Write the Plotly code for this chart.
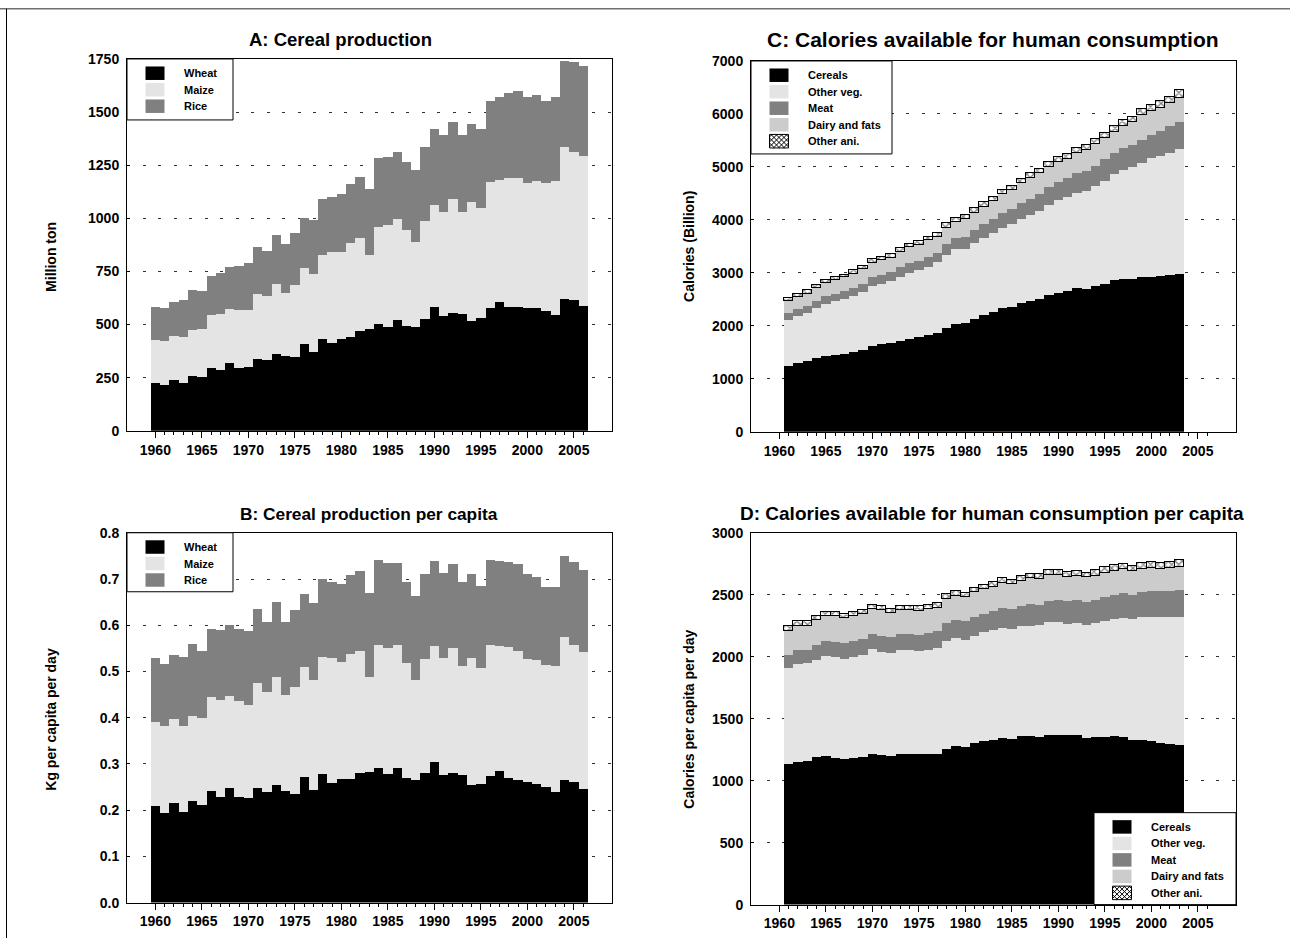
import plotly.graph_objects as go

# ---------------- data ----------------
years_ab = list(range(1960, 2007))
years_cd = list(range(1961, 2004))

# A: Cereal production (million ton)
a_wheat = [226, 215, 239, 225, 259, 253, 294, 286, 317, 298, 302, 338, 333, 360, 353, 346,
           408, 371, 432, 412, 430, 441, 470, 478, 504, 490, 520, 493, 490, 528, 583, 540,
           556, 551, 517, 531, 577, 606, 584, 581, 578, 577, 564, 545, 622, 616, 589]
a_maize = [201, 208, 209, 218, 215, 228, 251, 264, 256, 272, 268, 308, 302, 331, 297, 339,
           359, 366, 396, 428, 414, 442, 438, 350, 457, 479, 476, 451, 401, 460, 482, 492,
           537, 480, 559, 517, 592, 575, 608, 610, 589, 598, 603, 629, 715, 696, 704]
a_rice = [156, 154, 160, 173, 187, 177, 184, 192, 197, 205, 219, 221, 212, 231, 231, 248,
          237, 256, 262, 260, 270, 280, 289, 311, 323, 322, 317, 321, 338, 350, 355, 358,
          359, 359, 369, 374, 385, 389, 398, 410, 404, 406, 384, 399, 405, 424, 423]

# B: Cereal production per capita (kg per capita per day)
b_wheat = [0.210, 0.195, 0.215, 0.196, 0.221, 0.212, 0.242, 0.229, 0.249, 0.229, 0.227, 0.249,
           0.239, 0.255, 0.242, 0.236, 0.273, 0.244, 0.279, 0.260, 0.267, 0.268, 0.281, 0.282,
           0.291, 0.279, 0.291, 0.271, 0.265, 0.281, 0.304, 0.276, 0.281, 0.276, 0.254, 0.257,
           0.274, 0.285, 0.271, 0.266, 0.261, 0.257, 0.250, 0.239, 0.266, 0.262, 0.247]
b_maize = [0.181, 0.187, 0.183, 0.187, 0.183, 0.187, 0.203, 0.209, 0.198, 0.207, 0.200, 0.226,
           0.217, 0.233, 0.208, 0.230, 0.238, 0.239, 0.253, 0.270, 0.254, 0.270, 0.263, 0.207,
           0.267, 0.273, 0.267, 0.248, 0.216, 0.246, 0.251, 0.254, 0.271, 0.237, 0.275, 0.250,
           0.284, 0.270, 0.282, 0.279, 0.266, 0.268, 0.264, 0.273, 0.308, 0.296, 0.295]
b_rice = [0.139, 0.135, 0.139, 0.149, 0.155, 0.146, 0.147, 0.153, 0.153, 0.156, 0.161, 0.160,
          0.151, 0.162, 0.157, 0.167, 0.158, 0.166, 0.169, 0.164, 0.168, 0.171, 0.173, 0.182,
          0.184, 0.183, 0.178, 0.176, 0.182, 0.185, 0.185, 0.183, 0.182, 0.180, 0.182, 0.179,
          0.184, 0.185, 0.185, 0.188, 0.184, 0.179, 0.169, 0.172, 0.176, 0.179, 0.177]

# C: Calories available for human consumption (billion)
c_cereals = [1252, 1302, 1339, 1396, 1440, 1459, 1477, 1502, 1553, 1628, 1653, 1678, 1722, 1760,
             1791, 1829, 1860, 1967, 2042, 2049, 2137, 2199, 2256, 2331, 2356, 2431, 2469, 2507,
             2588, 2626, 2657, 2720, 2701, 2751, 2795, 2870, 2877, 2877, 2914, 2921, 2933, 2958, 2971]
c_otherveg = [866, 891, 904, 941, 979, 1004, 1036, 1067, 1079, 1129, 1142, 1167, 1205, 1236,
              1268, 1286, 1343, 1368, 1400, 1405, 1424, 1462, 1499, 1518, 1575, 1588, 1625, 1669,
              1701, 1757, 1770, 1782, 1845, 1883, 1945, 1989, 2070, 2114, 2165, 2239, 2277, 2308, 2371]
c_meat = [125, 125, 132, 132, 138, 144, 144, 151, 163, 157, 163, 163, 182, 182, 169, 188, 182,
          207, 219, 220, 251, 264, 270, 283, 270, 295, 295, 313, 338, 338, 357, 376, 376, 389,
          408, 396, 408, 421, 439, 440, 465, 503, 503]
c_dairy = [219, 226, 232, 238, 251, 263, 257, 263, 288, 282, 295, 282, 288, 307, 307, 314, 295,
           307, 295, 338, 326, 326, 339, 357, 364, 376, 408, 389, 376, 370, 364, 377, 395, 401,
           401, 414, 427, 433, 471, 458, 446, 440, 458]
c_otherani = [63, 57, 63, 57, 62, 50, 52, 63, 55, 63, 56, 63, 69, 60, 63, 66, 81, 88, 88, 88, 82,
              88, 78, 76, 78, 78, 81, 82, 95, 101, 94, 106, 94, 96, 101, 100, 113, 102, 100, 113,
              119, 112, 150]

# D: Calories available for human consumption per capita (per day)
d_cereals = [1133, 1149, 1157, 1189, 1198, 1184, 1173, 1184, 1192, 1219, 1206, 1200, 1219, 1216,
             1219, 1219, 1219, 1259, 1283, 1270, 1302, 1318, 1334, 1348, 1340, 1359, 1359, 1351,
             1372, 1369, 1367, 1372, 1348, 1351, 1353, 1361, 1351, 1334, 1334, 1318, 1308, 1300, 1289]
d_otherveg = [779, 798, 795, 790, 808, 814, 811, 814, 824, 846, 835, 833, 835, 838, 827, 840, 854,
              868, 870, 865, 870, 881, 881, 886, 888, 888, 894, 910, 910, 911, 899, 902, 913, 921,
              937, 948, 966, 970, 986, 1005, 1012, 1023, 1036]
d_meat = [104, 107, 107, 118, 121, 123, 129, 129, 129, 121, 131, 128, 132, 132, 134, 135, 134, 145,
          148, 153, 151, 150, 153, 158, 159, 162, 174, 161, 172, 179, 183, 188, 182, 187, 194, 194,
          199, 199, 201, 206, 209, 212, 212]
d_dairy = [196, 193, 194, 204, 201, 207, 202, 201, 202, 201, 204, 194, 190, 196, 194, 193, 188, 196,
           193, 193, 198, 199, 196, 204, 201, 206, 210, 209, 210, 205, 196, 194, 199, 197, 193, 193,
           194, 193, 191, 189, 183, 183, 188]
d_otherani = [35, 41, 40, 32, 32, 32, 32, 32, 35, 35, 32, 32, 35, 32, 34, 35, 40, 43, 41, 35, 35,
              35, 38, 41, 35, 40, 35, 38, 40, 40, 37, 40, 35, 43, 46, 43, 40, 41, 46, 46, 46, 46, 60]

major_ticks = list(range(1960, 2006, 5))
minor_ticks = list(range(1960, 2007))

cereal_names = ["Wheat", "Maize", "Rice"]
calorie_names = ["Cereals", "Other veg.", "Meat", "Dairy and fats", "Other ani."]

# ---------------- styling ----------------
W, H = 1290, 946
FONT = "Liberation Sans"
BLACK, LIGHT, MID, DAIRY = "#000000", "#e4e4e4", "#808080", "#cccccc"
cereal_colors = [BLACK, LIGHT, MID]
calorie_colors = [BLACK, LIGHT, MID, DAIRY, None]   # None -> cross-hatched

# plot areas in target-picture pixels: (left, right, top, bottom)
boxes = {
    "A": (127, 612, 59, 431),
    "C": (751, 1236, 61, 432),
    "B": (127, 612, 533, 903),
    "D": (751, 1236, 533, 905),
}

# the photographed page shows the figure inside an 8px band, slightly compressed vertically;
# convert wanted picture rows into figure rows accordingly
Y_OFF, Y_SCALE = 8.0, 0.9835


def px_x(x):
    return x / W


def px_y(y):
    yy = (y - Y_OFF) / Y_SCALE
    yy = min(max(yy, 0.0), H)
    return 1 - yy / H


fig = go.Figure()

axis_ids = {"A": ("x", "y"), "C": ("x2", "y2"), "B": ("x3", "y3"), "D": ("x4", "y4")}


def add_bar(panel, name, years, vals, color):
    xa, ya = axis_ids[panel]
    if color is None:
        marker = dict(color="white", line=dict(width=1, color="black"),
                      pattern=dict(shape="x", fgcolor="black", bgcolor="white",
                                   size=5, solidity=0.45))
    else:
        marker = dict(color=color, line=dict(width=0))
    fig.add_trace(go.Bar(x=years, y=vals, name=name, marker=marker, showlegend=False,
                         xaxis=xa, yaxis=ya, hoverinfo="skip"))


for name, vals, col in zip(cereal_names, [a_wheat, a_maize, a_rice], cereal_colors):
    add_bar("A", name, years_ab, vals, col)
for name, vals, col in zip(cereal_names, [b_wheat, b_maize, b_rice], cereal_colors):
    add_bar("B", name, years_ab, vals, col)
for name, vals, col in zip(calorie_names, [c_cereals, c_otherveg, c_meat, c_dairy, c_otherani],
                           calorie_colors):
    add_bar("C", name, years_cd, vals, col)
for name, vals, col in zip(calorie_names, [d_cereals, d_otherveg, d_meat, d_dairy, d_otherani],
                           calorie_colors):
    add_bar("D", name, years_cd, vals, col)

tickfont = dict(family=FONT, size=14, color="black", weight="bold")

yspecs = {"A": (1750, 250, None), "C": (7000, 1000, None),
          "B": (0.8, 0.1, ".1f"), "D": (3000, 500, None)}

layout = dict(
    width=W, height=H, margin=dict(l=0, r=0, t=0, b=0),
    paper_bgcolor="white", plot_bgcolor="white",
    barmode="stack", bargap=0, showlegend=False,
    font=dict(family=FONT, color="black"),
)

for panel, (l, r, t, b) in boxes.items():
    xa, ya = axis_ids[panel]
    xkey = "xaxis" + xa[1:]
    ykey = "yaxis" + ya[1:]
    ymax, dt, fmt = yspecs[panel]
    layout[xkey] = dict(
        domain=[px_x(l), px_x(r)], anchor=ya, range=[1956.95, 2009.1],
        tickmode="array", tickvals=major_ticks, ticktext=[str(v) for v in major_ticks],
        ticks="outside", ticklen=6, tickwidth=1, tickcolor="black",
        minor=dict(tickmode="array", tickvals=minor_ticks, ticks="outside",
                   ticklen=3, tickwidth=1, tickcolor="black", showgrid=False),
        showline=True, linecolor="black", linewidth=1, mirror=True,
        showgrid=False, zeroline=False, tickfont=tickfont, fixedrange=True,
    )
    layout[ykey] = dict(
        domain=[px_y(b), px_y(t)], anchor=xa, range=[0, ymax],
        tickmode="linear", tick0=0, dtick=dt,
        ticks="inside", ticklen=3, tickwidth=1, tickcolor="black",
        showline=True, linecolor="black", linewidth=1, mirror=True,
        showgrid=True, gridcolor="#333333", gridwidth=1, griddash="3px,12.5px",
        zeroline=False, tickfont=tickfont, ticklabelstandoff=4, fixedrange=True,
    )
    if fmt:
        layout[ykey]["tickformat"] = fmt

fig.update_layout(**layout)

# ---------------- legends (boxes, swatches, labels) ----------------
shapes = []


def hatch_path(x0, y0, x1, y1, step=5.0):
    """Cross-hatch path (pixel coords -> paper) inside a swatch rectangle."""
    w, h = x1 - x0, y1 - y0
    segs = []
    c = -h
    while c < w:
        pts = []
        for yy in (0, h):
            xx = yy + c
            if 0 <= xx <= w:
                pts.append((xx, yy))
        for xx in (0, w):
            yy = xx - c
            if 0 <= yy <= h:
                pts.append((xx, yy))
        pts = sorted(set(pts))
        if len(pts) >= 2:
            segs.append((pts[0], pts[-1]))
        pts2 = [(w - p[0], p[1]) for p in pts]
        if len(pts2) >= 2:
            segs.append((pts2[0], pts2[-1]))
        c += step
    d = ""
    for (ax, ay), (bx, by) in segs:
        d += "M%.5f,%.5f L%.5f,%.5f " % (px_x(x0 + ax), px_y(y0 + ay), px_x(x0 + bx), px_y(y0 + by))
    return d


def add_legend(left, top, right, bottom, names, colors):
    shapes.append(dict(type="rect", xref="paper", yref="paper", layer="above",
                       x0=px_x(left), x1=px_x(right), y0=px_y(bottom), y1=px_y(top),
                       fillcolor="white", line=dict(color="black", width=1)))
    for i, (nm, col) in enumerate(zip(names, colors)):
        sy0 = top + 7.5 + 16.5 * i
        sy1 = sy0 + 13.5
        sx0 = left + 18.5
        sx1 = sx0 + 19
        if col is None:
            shapes.append(dict(type="rect", xref="paper", yref="paper", layer="above",
                               x0=px_x(sx0), x1=px_x(sx1), y0=px_y(sy1), y1=px_y(sy0),
                               fillcolor="white", line=dict(color="black", width=1)))
            shapes.append(dict(type="path", xref="paper", yref="paper", layer="above",
                               path=hatch_path(sx0, sy0, sx1, sy1), line=dict(color="black", width=1)))
        else:
            shapes.append(dict(type="rect", xref="paper", yref="paper", layer="above",
                               x0=px_x(sx0), x1=px_x(sx1), y0=px_y(sy1), y1=px_y(sy0),
                               fillcolor=col, line=dict(width=0)))
        fig.add_annotation(text=nm, x=px_x(left + 55), y=px_y((sy0 + sy1) / 2),
                           xref="paper", yref="paper", xanchor="left", yanchor="middle",
                           showarrow=False,
                           font=dict(family=FONT, size=11, color="black", weight="bold"))


add_legend(127, 59, 233, 120, cereal_names, cereal_colors)
add_legend(127, 533, 233, 592, cereal_names, cereal_colors)
add_legend(751, 61, 892, 154, calorie_names, calorie_colors)
add_legend(1094, 813, 1236, 905, calorie_names, calorie_colors)

# titles: (text, centre x, centre y, font size)
titles = [
    ("A: Cereal production", 340, 40, 18.5),
    ("C: Calories available for human consumption", 993, 40, 21),
    ("B: Cereal production per capita", 369, 514, 17.3),
    ("D: Calories available for human consumption per capita", 992, 514, 19),
]
for txt, cx, cy, fs in titles:
    fig.add_annotation(text=txt, x=px_x(cx), y=px_y(cy), xref="paper", yref="paper",
                       xanchor="center", yanchor="middle", showarrow=False,
                       font=dict(family=FONT, size=fs, color="black", weight="bold"))

ytitles = [
    ("Million ton", 51, 257),
    ("Calories (Billion)", 689, 247),
    ("Kg per capita per day", 51, 720),
    ("Calories per capita per day", 689, 720),
]
for txt, cx, cy in ytitles:
    fig.add_annotation(text=txt, x=px_x(cx), y=px_y(cy), xref="paper", yref="paper",
                       xanchor="center", yanchor="middle", showarrow=False, textangle=-90,
                       font=dict(family=FONT, size=14, color="black", weight="bold"))

# page frame lines (top rule and left rule)
shapes.append(dict(type="line", xref="paper", yref="paper", x0=0, x1=1,
                   y0=1 - 0.75 / H, y1=1 - 0.75 / H,
                   line=dict(color="#707070", width=1.5)))
shapes.append(dict(type="line", xref="paper", yref="paper", x0=px_x(6.5), x1=px_x(6.5),
                   y0=0, y1=1 - 0.75 / H, line=dict(color="black", width=1)))

fig.update_layout(shapes=shapes)

post = ("document.documentElement.style.margin='0';"
        "document.body.style.margin='0';document.body.style.padding='0';"
        "document.body.style.overflow='hidden';"
        "var gd=document.getElementById('{plot_id}');"
        "gd.style.position='absolute';gd.style.left='0px';gd.style.top='0px';")

fig.write_html("out.html", config={"displayModeBar": False}, post_script=post)
